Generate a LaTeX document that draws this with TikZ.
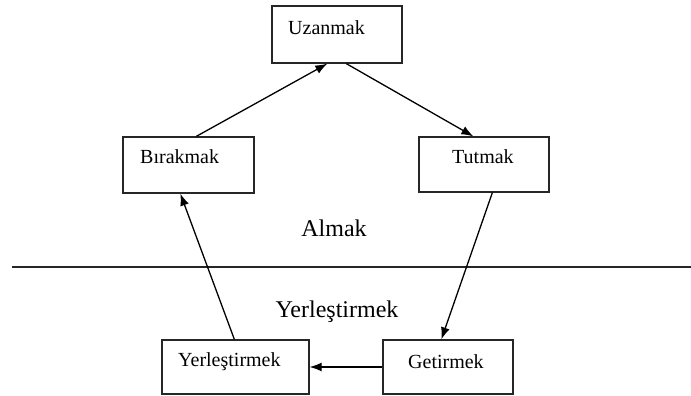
\documentclass[tikz,border=0pt]{standalone}
\usepackage{fontspec}
\setmainfont{Liberation Serif}
\usetikzlibrary{arrows.meta,calc}
\begin{document}
\begin{tikzpicture}[x=1pt,y=-1pt,
  box/.style={draw=black!85,line width=1.3pt,inner sep=0pt},
  boxtext/.style={anchor=west,inner sep=0pt,font=\fontsize{20}{22}\selectfont},
  bigtext/.style={inner sep=0pt,font=\fontsize{24}{26}\selectfont},
  conn/.style={line width=1.3pt,-{Latex[length=12pt,width=9pt]}}]
\useasboundingbox (0,0) rectangle (691,396);
\node[box,minimum width=130pt,minimum height=57pt] (u) at (337,34.5) {};
\node[box,minimum width=131pt,minimum height=56pt] (b) at (188.5,165) {};
\node[box,minimum width=130pt,minimum height=55pt] (t) at (484,164.5) {};
\node[box,minimum width=147pt,minimum height=54pt] (y) at (235.5,367) {};
\node[box,minimum width=130pt,minimum height=54pt] (g) at (448,367) {};
\node[boxtext] (ut) at (288,28) {Uzanmak};
\node[boxtext] (bt) at (140,157) {Bırakmak};
\node[boxtext] (tt) at (452,157) {Tutmak};
\node[boxtext] (yt) at (178,362) {Yerleştirmek};
\node[boxtext] (gt) at (408,362) {Getirmek};
\node[bigtext] (al) at (334,228) {Almak};
\node[bigtext] (yl) at (337,312) {Yerleştirmek};
\coordinate (l1) at (12,267);
\coordinate (l2) at (691,267);
\draw[line width=1.3pt,black!85] (l1) -- (l2);
\draw[conn] ($(b.north west)+(74,0)$) -- ($(u.south west)+(56,0)$);
\draw[conn] ($(u.south west)+(75,0)$) -- ($(t.north west)+(55,0)$);
\draw[conn] ($(t.south west)+(74,0)$) -- ($(g.north west)+(59,0)$);
\draw[conn] (g.west) -- (y.east);
\draw[conn] ($(y.north west)+(73,0)$) -- ($(b.south west)+(58,0)$);
\end{tikzpicture}
\end{document}
